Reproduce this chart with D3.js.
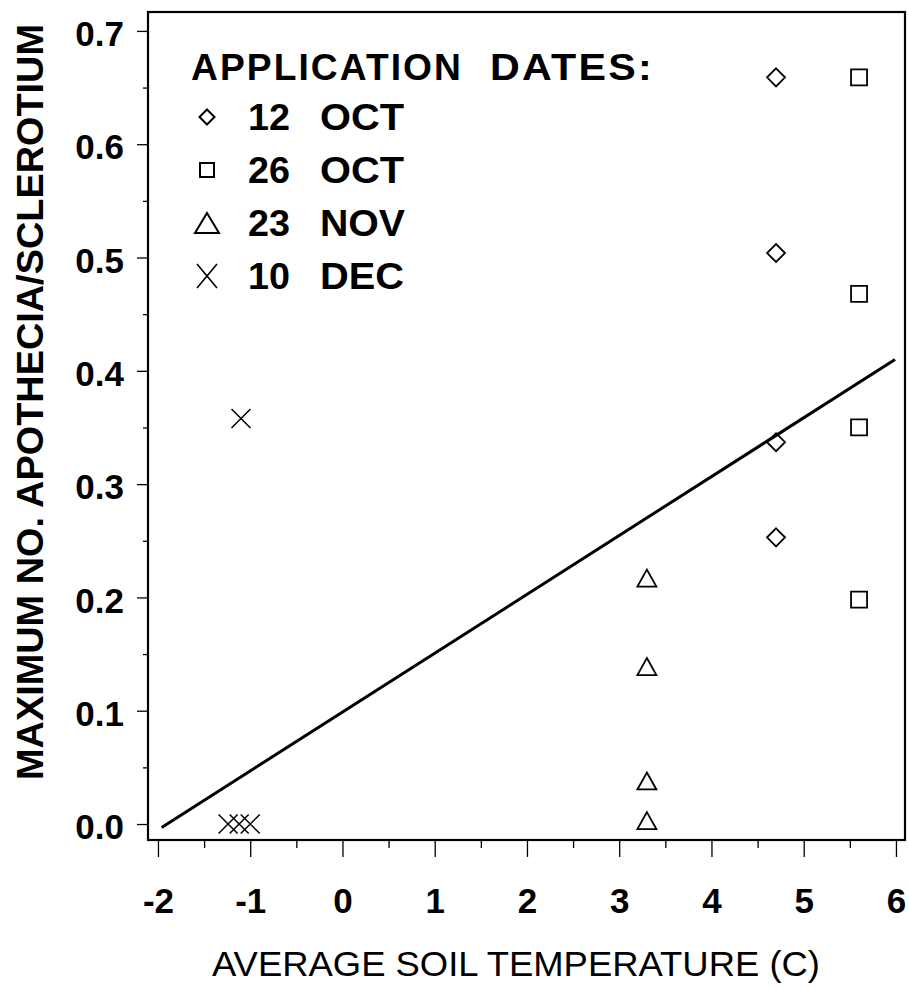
<!DOCTYPE html>
<html>
<head>
<meta charset="utf-8">
<script src="https://cdn.jsdelivr.net/npm/d3@7"></script>
<style>
  body { margin: 0; background: #fff; }
  text { font-family: "Liberation Sans", Arial, Helvetica, sans-serif; fill: #000; }
</style>
</head>
<body>
<div id="chart"></div>
<script>
// Apothecia per sclerotium vs average soil temperature

// Data
var seriesNames = ["12 OCT", "26 OCT", "23 NOV", "10 DEC"];
var seriesShapes = ["diamond", "square", "triangle", "cross"];

var oct12_x = [4.7, 4.7, 4.7, 4.7];
var oct12_y = [0.659, 0.504, 0.337, 0.253];

var oct26_x = [5.6, 5.6, 5.6, 5.6];
var oct26_y = [0.659, 0.468, 0.350, 0.198];

var nov23_x = [3.3, 3.3, 3.3, 3.3];
var nov23_y = [0.217, 0.139, 0.038, 0.003];

var dec10_x = [-1.1, -1.24, -1.12, -1.0];
var dec10_y = [0.358, 0, 0, 0];

// fitted line end points
var fit_x = [-1.96, 5.99];
var fit_y = [-0.003, 0.41];

var xTicks = [-2, -1, 0, 1, 2, 3, 4, 5, 6];
var xMinorTicks = [-1.5, -0.5, 0.5, 1.5, 2.5, 3.5, 4.5, 5.5];
var yTicks = [0, 0.1, 0.2, 0.3, 0.4, 0.5, 0.6, 0.7];
var yMinorTicks = [0.05, 0.15, 0.25, 0.35, 0.45, 0.55, 0.65];

var xTitle = "AVERAGE SOIL TEMPERATURE (C)";
var yTitle = "MAXIMUM NO. APOTHECIA/SCLEROTIUM";
var legendTitle = ["APPLICATION", "DATES:"];

// Size of drawing
var width = 909;
var height = 988;
var margin = { top: 12, left: 148, right: 4, bottom: 148 };
var plotW = width - margin.left - margin.right;
var plotH = height - margin.top - margin.bottom;

var svg = d3.select("#chart")
  .append("svg")
  .attr("width", width)
  .attr("height", height);

var g = svg.append("g")
  .attr("transform", "translate(" + margin.left + "," + margin.top + ")");

// scales (domain runs a little past the end ticks, like the original frame)
var x = d3.scaleLinear()
  .domain([-2.108, 6.098])
  .range([0, plotW]);

var y = d3.scaleLinear()
  .domain([-0.0141, 0.7167])
  .range([plotH, 0]);

// y axis - minor ticks then major ticks with labels
g.append("g")
  .attr("class", "y minor")
  .call(d3.axisLeft(y).tickValues(yMinorTicks).tickSize(5).tickFormat(""));

var yAxis = g.append("g")
  .attr("class", "y axis")
  .call(d3.axisLeft(y)
    .tickValues(yTicks)
    .tickSize(11)
    .tickPadding(13)
    .tickFormat(d3.format(".1f")));

yAxis.selectAll("text")
  .attr("dy", "0.42em")
  .style("font-size", "35px")
  .style("font-weight", "bold");

// x axis - below the frame
g.append("g")
  .attr("class", "x minor")
  .attr("transform", "translate(0," + plotH + ")")
  .call(d3.axisBottom(x).tickValues(xMinorTicks).tickSize(8).tickFormat(""));

var xAxis = g.append("g")
  .attr("class", "x axis")
  .attr("transform", "translate(0," + plotH + ")")
  .call(d3.axisBottom(x)
    .tickValues(xTicks)
    .tickSize(17)
    .tickPadding(31)
    .tickFormat(function(d) { return d < 0 ? "-" + Math.abs(d) : d; }));

xAxis.selectAll("text")
  .style("font-size", "35px")
  .style("font-weight", "bold");

// no domain paths, the frame does that job
g.selectAll(".domain").remove();
g.selectAll(".tick line")
  .attr("stroke", "#000")
  .attr("stroke-width", 1.3);

// frame
g.append("rect")
  .attr("x", 0)
  .attr("y", 0)
  .attr("width", plotW)
  .attr("height", plotH)
  .attr("fill", "none")
  .attr("stroke", "#000")
  .attr("stroke-width", 2.2);

// axis titles
svg.append("text")
  .attr("x", 212)
  .attr("y", 976)
  .attr("textLength", 608)
  .attr("lengthAdjust", "spacingAndGlyphs")
  .style("font-size", "35px")
  .text(xTitle);

svg.append("text")
  .attr("transform", "translate(43," + 780 + ") rotate(-90)")
  .attr("textLength", 756)
  .attr("lengthAdjust", "spacingAndGlyphs")
  .style("font-size", "37px")
  .style("font-weight", "bold")
  .text(yTitle);

// fitted line
var fitData = fit_x.map(function(d, i) { return [d, fit_y[i]]; });

g.append("path")
  .datum(fitData)
  .attr("d", d3.line()
    .x(function(d) { return x(d[0]); })
    .y(function(d) { return y(d[1]); }))
  .attr("fill", "none")
  .attr("stroke", "#000")
  .attr("stroke-width", 3);

// marker shapes, r = half size
function shapePath(shape, r, h) {
  h = h || r;
  if (shape == "diamond") {
    return "M0," + (-r) + "L" + r + ",0L0," + r + "L" + (-r) + ",0Z";
  }
  if (shape == "square") {
    return "M" + (-r) + "," + (-r) + "H" + r + "V" + r + "H" + (-r) + "Z";
  }
  if (shape == "triangle") {
    return "M0," + (-h) + "L" + r + "," + h + "H" + (-r) + "Z";
  }
  // cross
  return "M" + (-r) + "," + (-h) + "L" + r + "," + h +
    "M" + r + "," + (-h) + "L" + (-r) + "," + h;
}

var plotSize = {
  diamond: [9, 9],
  square: [8, 8],
  triangle: [9.5, 8.5],
  cross: [9.5, 9.5]
};

var allSeries = [
  [oct12_x, oct12_y],
  [oct26_x, oct26_y],
  [nov23_x, nov23_y],
  [dec10_x, dec10_y]
];

allSeries.forEach(function(s, k) {
  var shape = seriesShapes[k];
  var pts = s[0].map(function(d, i) { return [d, s[1][i]]; });

  g.selectAll(".pt" + k)
    .data(pts)
    .enter()
    .append("path")
    .attr("class", "pt" + k)
    .attr("transform", function(d) {
      return "translate(" + x(d[0]) + "," + y(d[1]) + ")";
    })
    .attr("d", shapePath(shape, plotSize[shape][0], plotSize[shape][1]))
    .attr("fill", "none")
    .attr("stroke", "#000")
    .attr("stroke-width", shape == "cross" ? 1.5 : 1.8);
});

// legend
var legendSize = {
  diamond: [7.5, 7.5],
  square: [7, 7],
  triangle: [12, 10],
  cross: [10, 12]
};

svg.append("text")
  .attr("x", 191)
  .attr("y", 80)
  .attr("textLength", 272)
  .attr("lengthAdjust", "spacingAndGlyphs")
  .style("font-size", "36px")
  .style("font-weight", "bold")
  .style("letter-spacing", "2px")
  .text(legendTitle[0]);

svg.append("text")
  .attr("x", 490)
  .attr("y", 80)
  .attr("textLength", 164)
  .attr("lengthAdjust", "spacingAndGlyphs")
  .style("font-size", "36px")
  .style("font-weight", "bold")
  .style("letter-spacing", "2px")
  .text(legendTitle[1]);

var legendRows = svg.selectAll(".legrow")
  .data(seriesNames)
  .enter()
  .append("g")
  .attr("class", "legrow")
  .attr("transform", function(d, i) {
    return "translate(0," + (130 + i * 53) + ")";
  });

legendRows.append("path")
  .attr("transform", "translate(207,-13)")
  .attr("d", function(d, i) {
    var sh = seriesShapes[i];
    return shapePath(sh, legendSize[sh][0], legendSize[sh][1]);
  })
  .attr("fill", "none")
  .attr("stroke", "#000")
  .attr("stroke-width", function(d, i) { return seriesShapes[i] == "cross" ? 1.6 : 2; });

legendRows.append("text")
  .attr("x", 248)
  .attr("textLength", 42)
  .attr("lengthAdjust", "spacingAndGlyphs")
  .style("font-size", "36px")
  .style("font-weight", "bold")
  .text(function(d) { return d.split(" ")[0]; });

legendRows.append("text")
  .attr("x", 320)
  .attr("textLength", function(d) { return d.split(" ")[1] == "NOV" ? 85 : 84; })
  .attr("lengthAdjust", "spacingAndGlyphs")
  .style("font-size", "36px")
  .style("font-weight", "bold")
  .text(function(d) { return d.split(" ")[1]; });
</script>
</body>
</html>
